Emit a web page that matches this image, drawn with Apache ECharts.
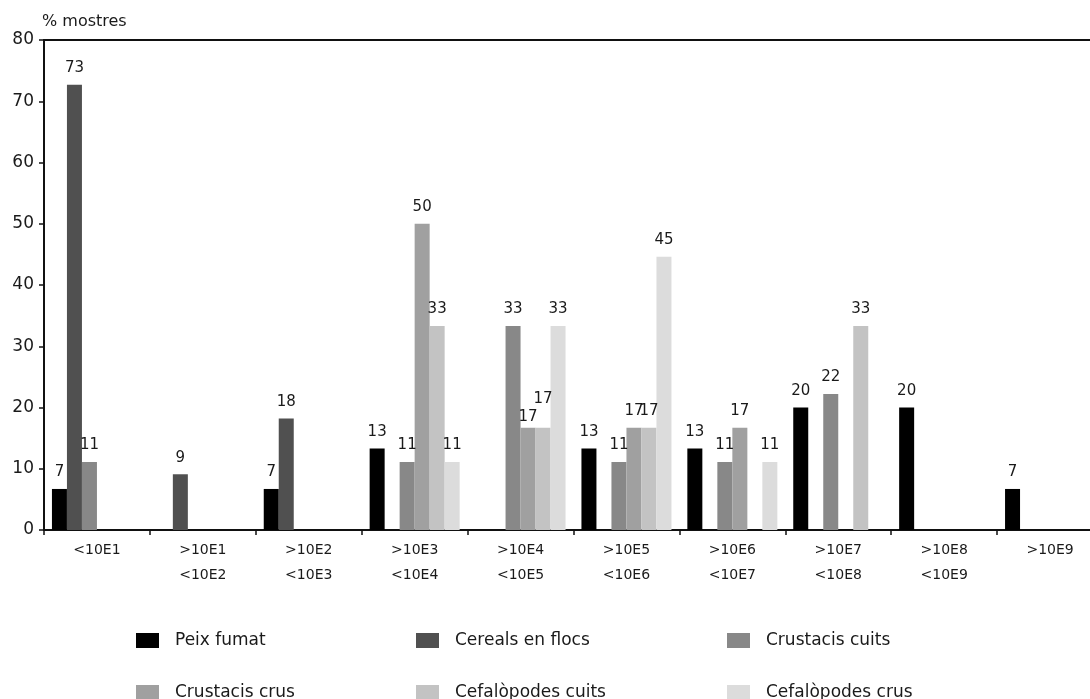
<!DOCTYPE html>
<html>
<head>
<meta charset="utf-8">
<script src="https://cdn.jsdelivr.net/npm/echarts@6/dist/echarts.min.js"></script>
<style>
html,body{margin:0;padding:0;background:#fff;}
#chart{width:1090px;height:699px;}
</style>
</head>
<body>
<div id="chart"></div>
<script>
const categories = ['<10E1', '>10E1\n<10E2', '>10E2\n<10E3', '>10E3\n<10E4', '>10E4\n<10E5', '>10E5\n<10E6', '>10E6\n<10E7', '>10E7\n<10E8', '>10E8\n<10E9', '>10E9'];
const yTicks = [0, 10, 20, 30, 40, 50, 60, 70, 80];
const seriesNames = ['Peix fumat', 'Cereals en flocs', 'Crustacis cuits', 'Crustacis crus', 'Cefalòpodes cuits', 'Cefalòpodes crus'];
const peixFumat = [6.7, null, 6.7, 13.3, null, 13.3, 13.3, 20, 20, 6.7];
const cerealsFlocs = [72.7, 9.1, 18.2, null, null, null, null, null, null, null];
const crustacisCuits = [11.1, null, null, 11.1, 33.3, 11.1, 11.1, 22.2, null, null];
const crustacisCrus = [null, null, null, 50, 16.7, 16.7, 16.7, null, null, null];
const cefalopodesCuits = [null, null, null, 33.3, 16.7, 16.7, null, 33.3, null, null];
const cefalopodesCrus = [null, null, null, 11.1, 33.3, 44.6, 11.1, null, null, null];

const colors = ['#000000', '#505050', '#888888', '#a0a0a0', '#c3c3c3', '#dcdcdc'];
const allData = [peixFumat, cerealsFlocs, crustacisCuits, crustacisCrus, cefalopodesCuits, cefalopodesCrus];
const FONT = 'DejaVu Sans';
const TXT = '#1a1a1a';

const chart = echarts.init(document.getElementById('chart'), null, {renderer: 'canvas'});

const series = seriesNames.map((name, i) => ({
  name: name,
  type: 'bar',
  xAxisIndex: 0,
  data: allData[i],
  barGap: '0%',
  barCategoryGap: '15%',
  itemStyle: {color: colors[i]},
  label: {
    show: true,
    position: 'top',
    distance: 9,
    color: TXT,
    fontFamily: FONT,
    fontSize: 15,
    formatter: p => (p.value == null ? '' : String(Math.round(p.value)))
  },
  labelLayout: function (params) {
    if (i === 3 && params.dataIndex === 4) return {dy: 6};
    if (i === 4 && params.dataIndex === 4) return {dy: -12};
    return {};
  }
}));

function legendCol(names, left) {
  return {
    data: names,
    orient: 'vertical',
    left: left,
    top: 632,
    height: 80,
    padding: 0,
    itemWidth: 23,
    itemHeight: 15,
    itemGap: 35,
    icon: 'rect',
    selectedMode: false,
    textStyle: {fontFamily: FONT, fontSize: 17, color: TXT, lineHeight: 15, padding: [0, 0, 0, 11]}
  };
}

const option = {
  backgroundColor: '#ffffff',
  animation: false,
  color: colors,
  grid: {left: 44, top: 40, width: 1059, bottom: 169, outerBoundsMode: 'none', containLabel: false},
  legend: [
    legendCol([seriesNames[0], seriesNames[3]], 136),
    legendCol([seriesNames[1], seriesNames[4]], 416),
    legendCol([seriesNames[2], seriesNames[5]], 727)
  ],
  xAxis: [{
    type: 'category',
    data: categories,
    position: 'bottom',
    axisLine: {show: true, lineStyle: {color: '#111', width: 2}},
    axisTick: {show: true, length: 5, inside: false, lineStyle: {color: '#111', width: 1.5}},
    axisLabel: {interval: 0, margin: 8, fontFamily: FONT, fontSize: 14, color: TXT, lineHeight: 25},
    splitLine: {show: false}
  }, {
    type: 'category',
    data: categories,
    position: 'top',
    axisLine: {show: true, lineStyle: {color: '#111', width: 2}},
    axisTick: {show: false},
    axisLabel: {show: false},
    splitLine: {show: false}
  }],
  yAxis: {
    type: 'value',
    min: yTicks[0],
    max: yTicks[yTicks.length - 1],
    interval: 10,
    name: '% mostres',
    nameLocation: 'end',
    nameGap: 10,
    nameTextStyle: {fontFamily: FONT, fontSize: 16, color: TXT, align: 'left', padding: [0, 0, 0, -2]},
    axisLine: {show: true, lineStyle: {color: '#111', width: 2}},
    axisTick: {show: true, length: 5, lineStyle: {color: '#111', width: 1.5}},
    axisLabel: {margin: 10, fontFamily: FONT, fontSize: 17, color: TXT},
    splitLine: {show: false}
  },
  series: series
};
chart.setOption(option);
</script>
</body>
</html>
